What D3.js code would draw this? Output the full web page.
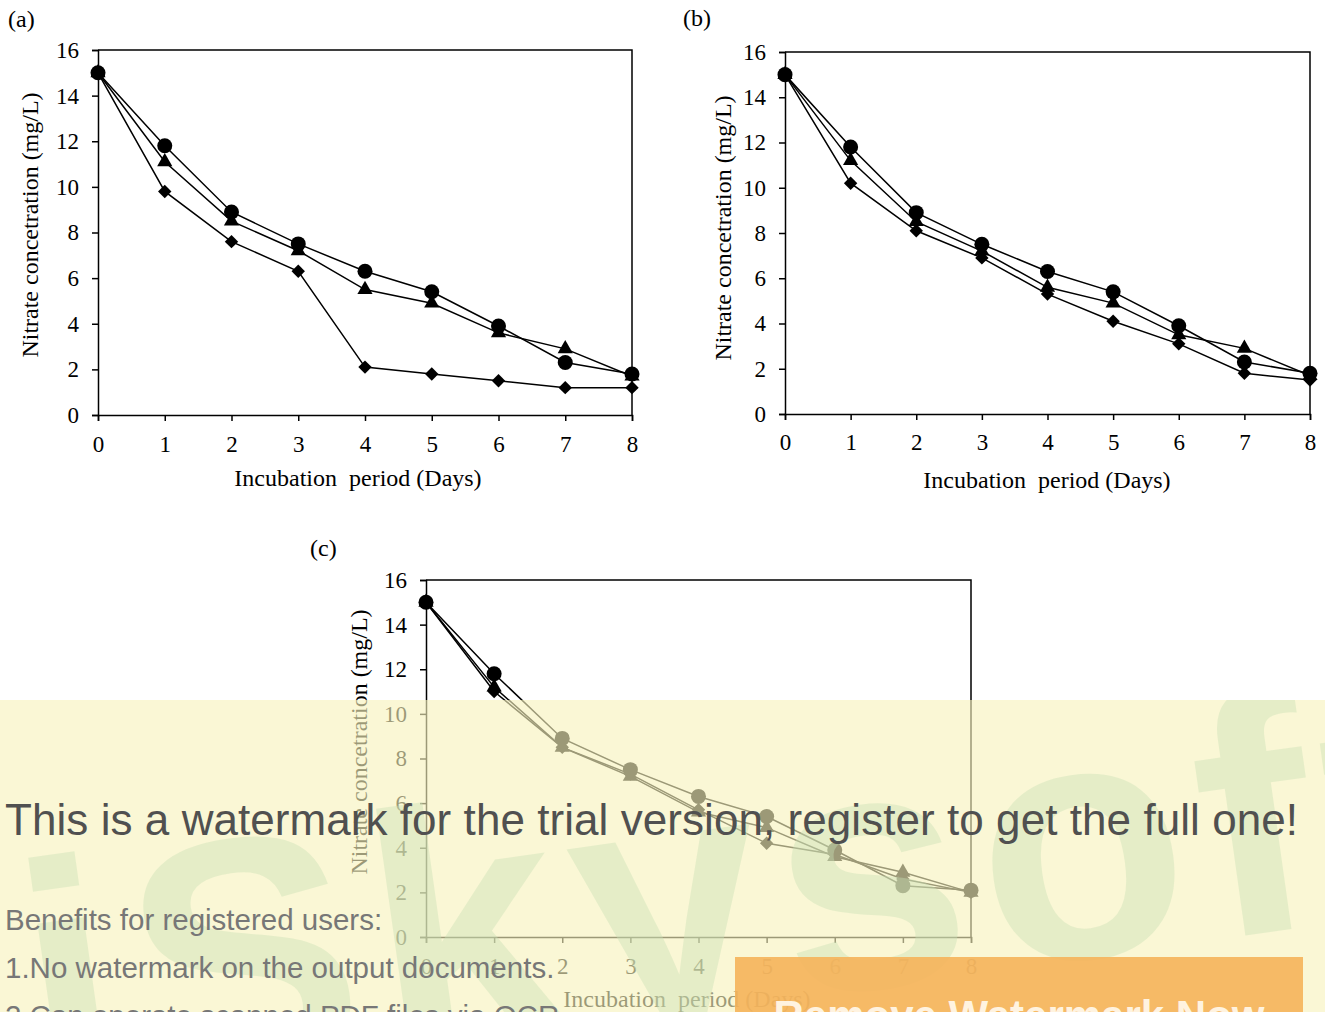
<!DOCTYPE html>
<html><head><meta charset="utf-8">
<script src="https://cdn.jsdelivr.net/npm/d3@7"></script>
<style>body{margin:0;background:#fff}svg{display:block}</style>
</head><body>
<svg id="c" width="1325" height="1012"></svg>
<script>
const days = [0,1,2,3,4,5,6,7,8];
const yTicks = [0,2,4,6,8,10,12,14,16];
const panelLabels = ["(a)","(b)","(c)"];
const xTitle = "Incubation  period (Days)";
const yTitle = "Nitrate concetration (mg/L)";
// panel a
const aCircle   = [15,11.8,8.9,7.5,6.3,5.4,3.9,2.3,1.8];
const aTriangle = [15,11.1,8.5,7.2,5.5,4.9,3.6,2.9,1.7];
const aDiamond  = [15,9.8,7.6,6.3,2.1,1.8,1.5,1.2,1.2];
// panel b
const bCircle   = [15,11.8,8.9,7.5,6.3,5.4,3.9,2.3,1.8];
const bTriangle = [15,11.2,8.5,7.2,5.6,4.9,3.5,2.9,1.7];
const bDiamond  = [15,10.2,8.1,6.9,5.3,4.1,3.1,1.8,1.5];
// panel c
const cCircle   = [15,11.8,8.9,7.5,6.3,5.4,3.9,2.3,2.1];
const cTriangle = [15,11.2,8.5,7.2,5.6,4.9,3.6,2.9,2.0];
const cDiamond  = [15,11.0,8.5,7.3,5.7,4.2,3.7,2.6,2.0];

const svg = d3.select("#c");
const font = "'Liberation Serif','Times New Roman',serif";

const panels = [
  {lab:panelLabels[0], x0:98, x1:632, yT:50, yB:415, labX:8, labY:27, ytX:38, ytC:225, series:[aDiamond,aTriangle,aCircle], xlY:37, xtY:486, xtC:358},
  {lab:panelLabels[1], x0:785, x1:1310, yT:52, yB:414, labX:683, labY:26, ytX:731, ytC:228, series:[bDiamond,bTriangle,bCircle], xlY:36, xtY:488, xtC:1047},
  {lab:panelLabels[2], x0:426, x1:971, yT:580, yB:937, labX:310, labY:556, ytX:367, ytC:742, series:[cDiamond,cTriangle,cCircle], xlY:37, xtY:1007, xtC:687}
];
const shapes = [d3.symbolSquare, d3.symbolTriangle, d3.symbolCircle];
const sizes = [90, 100, 177];
const rots = [45, 0, 0];

panels.forEach(p => {
  const g = svg.append("g");
  const x = d3.scaleLinear().domain([0,8]).range([p.x0,p.x1]);
  const y = d3.scaleLinear().domain([0,16]).range([p.yB,p.yT]);
  g.append("path").attr("d",`M${p.x0},${p.yT}H${p.x1}V${p.yB}`).attr("fill","none").attr("stroke","#000").attr("stroke-width",1.5);
  const xa = g.append("g").attr("transform",`translate(0,${p.yB})`)
    .call(d3.axisBottom(x).tickValues(days).tickSize(6).tickFormat(d3.format("d")));
  xa.selectAll("text").attr("y",p.xlY).attr("dy",0);
  const ya = g.append("g").attr("transform",`translate(${p.x0},0)`)
    .call(d3.axisLeft(y).tickValues(yTicks).tickSize(6).tickPadding(13).tickFormat(d3.format("d")));
  [xa,ya].forEach(a=>{
    a.selectAll("path,line").attr("stroke","#000").attr("stroke-width",1.5);
    a.selectAll("text").attr("font-family",font).attr("font-size",23).attr("fill","#000");
  });
  g.append("text").attr("x",p.xtC).attr("y",p.xtY).attr("text-anchor","middle")
    .attr("font-family",font).attr("font-size",24).style("white-space","pre").text(xTitle);
  g.append("text").attr("transform",`translate(${p.ytX},${p.ytC}) rotate(-90)`)
    .attr("text-anchor","middle").attr("font-family",font).attr("font-size",24).text(yTitle);
  g.append("text").attr("x",p.labX).attr("y",p.labY).attr("font-family",font).attr("font-size",24).text(p.lab);
  const line = d3.line().x((d,i)=>x(days[i])).y(d=>y(d));
  p.series.forEach(s=>{
    g.append("path").datum(s).attr("d",line).attr("fill","none").attr("stroke","#000").attr("stroke-width",1.5);
  });
  p.series.forEach((s,k)=>{
    g.selectAll(null).data(s).enter().append("path")
      .attr("transform",(d,i)=>`translate(${x(days[i])},${y(d)}) rotate(${rots[k]})`)
      .attr("d",d3.symbol().type(shapes[k]).size(sizes[k])).attr("fill","#000");
  });
});

// watermark overlay as seen in the reference picture
const wm = svg.append("g");
wm.append("defs").append("clipPath").attr("id","band").append("rect").attr("x",0).attr("y",700).attr("width",1325).attr("height",312);
wm.append("rect").attr("x",0).attr("y",700).attr("width",1325).attr("height",312).attr("fill","rgb(247,242,188)").attr("fill-opacity",0.63);
wm.append("g").attr("clip-path","url(#band)").append("text")
  .attr("transform","translate(39,1105) rotate(-8)")
  .attr("font-family","'Liberation Sans',Arial,sans-serif").attr("font-weight","bold").attr("font-size",340)
  .attr("letter-spacing",15)
  .attr("fill","rgb(200,225,180)").attr("fill-opacity",0.42).text("iSkysoft");
wm.append("text").attr("x",5).attr("y",835).attr("font-family","'Liberation Sans',Arial,sans-serif").attr("font-size",44)
  .attr("fill","#505050").attr("textLength",1293).text("This is a watermark for the trial version, register to get the full one!");
const sm = [["Benefits for registered users:",930],["1.No watermark on the output documents.",978],["2.Can operate scanned PDF files via OCR.",1026]];
sm.forEach(t=>wm.append("text").attr("x",5).attr("y",t[1]).attr("font-family","'Liberation Sans',Arial,sans-serif").attr("font-size",29.5).attr("fill","#777").text(t[0]));
wm.append("rect").attr("x",735).attr("y",957).attr("width",568).attr("height",60).attr("fill","#f5b25a").attr("fill-opacity",0.9);
wm.append("text").attr("x",1019).attr("y",1030).attr("text-anchor","middle").attr("font-family","'Liberation Sans',Arial,sans-serif")
  .attr("font-weight","bold").attr("font-size",42).attr("fill","#fff3e0").text("Remove Watermark Now");
</script>
</body></html>
